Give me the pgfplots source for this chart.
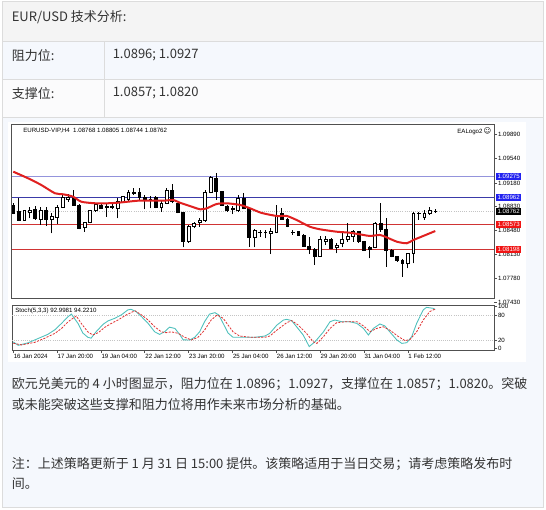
\documentclass[border=0pt]{standalone}
\usepackage{pgfplots}
\pgfplotsset{compat=1.18}
\usepackage{pgfplotstable}
\usepackage{fontspec}
\setmainfont{Liberation Sans}
\newfontfamily\cjk{Noto Sans CJK SC}
\newfontfamily\dejavu{DejaVu Sans}
\definecolor{bordergray}{HTML}{DCDCDC}
\definecolor{headbg}{HTML}{F4F4F4}
\definecolor{rowbg}{HTML}{F5F8FD}
\definecolor{rowwbg}{HTML}{FBFBFC}
\definecolor{txt}{HTML}{333333}
\definecolor{axisgray}{HTML}{505050}
\definecolor{lvlA}{HTML}{9494DC}
\definecolor{lvlB}{HTML}{3A3AA8}
\definecolor{lvlR}{HTML}{D03434}
\definecolor{curgray}{HTML}{C4C4C4}
\definecolor{maRed}{HTML}{E02020}
\definecolor{stTeal}{HTML}{4EC0BC}
\definecolor{stRed}{HTML}{E03030}
\definecolor{boxBlue}{HTML}{2222F0}
\definecolor{boxRed}{HTML}{F01414}

\pgfplotstableread{
i O H L C
0 1.08857 1.08882 1.08724 1.08735
1 1.08758 1.08955 1.08630 1.08636
2 1.08636 1.08783 1.08626 1.08773
3 1.08743 1.08823 1.08661 1.08783
4 1.08793 1.08842 1.08636 1.08661
5 1.08646 1.08823 1.08563 1.08773
6 1.08773 1.08823 1.08548 1.08646
7 1.08646 1.08743 1.08441 1.08685
8 1.08676 1.08857 1.08577 1.08823
9 1.08823 1.09004 1.08815 1.08970
10 1.08940 1.09018 1.08905 1.08970
11 1.08970 1.09077 1.08842 1.08857
12 1.08857 1.08865 1.08499 1.08514
13 1.08529 1.08611 1.08464 1.08596
14 1.08596 1.08783 1.08588 1.08773
15 1.08773 1.08882 1.08758 1.08871
16 1.08857 1.08871 1.08798 1.08808
17 1.08815 1.08882 1.08685 1.08830
18 1.08830 1.08905 1.08793 1.08815
19 1.08808 1.08955 1.08661 1.08905
20 1.08890 1.08989 1.08882 1.08979
21 1.08940 1.09077 1.08905 1.09037
22 1.09029 1.09102 1.09004 1.09037
23 1.09037 1.09102 1.08930 1.08970
24 1.08970 1.09004 1.08793 1.08930
25 1.08920 1.08989 1.08808 1.08940
26 1.08970 1.08989 1.08808 1.08823
27 1.08823 1.08930 1.08758 1.08882
28 1.08882 1.09102 1.08871 1.09077
29 1.09077 1.09165 1.08882 1.08905
30 1.08882 1.08890 1.08735 1.08743
31 1.08743 1.08758 1.08235 1.08317
32 1.08317 1.08563 1.08302 1.08548
33 1.08548 1.08611 1.08514 1.08588
34 1.08596 1.08661 1.08538 1.08636
35 1.08626 1.09077 1.08611 1.09037
36 1.09037 1.09283 1.09029 1.09264
37 1.09249 1.09331 1.08930 1.09052
38 1.09052 1.09067 1.08842 1.08857
39 1.08842 1.08857 1.08758 1.08773
40 1.08800 1.08842 1.08724 1.08808
41 1.08773 1.09004 1.08758 1.08955
42 1.08955 1.09037 1.08793 1.08808
43 1.08808 1.08823 1.08244 1.08382
44 1.08382 1.08499 1.08235 1.08489
45 1.08449 1.08489 1.08391 1.08455
46 1.08455 1.08489 1.08367 1.08449
47 1.08441 1.08514 1.08136 1.08464
48 1.08449 1.08857 1.08441 1.08710
49 1.08735 1.08808 1.08636 1.08646
50 1.08646 1.08661 1.08529 1.08538
51 1.08455 1.08489 1.08416 1.08449
52 1.08464 1.08479 1.08401 1.08416
53 1.08416 1.08430 1.08244 1.08254
54 1.08254 1.08382 1.08136 1.08205
55 1.08205 1.08220 1.07975 1.08097
56 1.08107 1.08401 1.08097 1.08352
57 1.08317 1.08401 1.08269 1.08352
58 1.08352 1.08367 1.08205 1.08220
59 1.08235 1.08294 1.08147 1.08269
60 1.08294 1.08441 1.08235 1.08352
61 1.08352 1.08588 1.08317 1.08401
62 1.08391 1.08489 1.08317 1.08464
63 1.08464 1.08479 1.08302 1.08317
64 1.08317 1.08332 1.08185 1.08195
65 1.08235 1.08254 1.08073 1.08205
66 1.08235 1.08611 1.08220 1.08588
67 1.08588 1.08882 1.08464 1.08499
68 1.08499 1.08661 1.07950 1.08195
69 1.08195 1.08205 1.08088 1.08097
70 1.08097 1.08107 1.08023 1.08038
71 1.08048 1.08058 1.07803 1.07999
72 1.07999 1.08155 1.07926 1.08147
73 1.08147 1.08758 1.07999 1.08735
74 1.08735 1.08758 1.08636 1.08740
75 1.08676 1.08783 1.08636 1.08735
76 1.08735 1.08832 1.08710 1.08783
77 1.08768 1.08805 1.08744 1.08762
}\candles

\pgfplotstableread{
i p
0 1.09346
2.7 1.09249
5.1 1.09151
7.6 1.09029
9.1 1.09014
10.9 1.08979
12.4 1.08905
14.9 1.08882
17.3 1.08882
19.1 1.08890
20.9 1.08905
22.8 1.08920
24.3 1.08920
27.4 1.08920
29.2 1.08930
30.4 1.08890
32.2 1.08842
34.1 1.08793
35.3 1.08808
37.1 1.08871
38.9 1.08882
41.4 1.08857
43.2 1.08808
45.3 1.08740
48.1 1.08695
49.9 1.08695
51.7 1.08636
54.1 1.08538
56 1.08499
59 1.08464
61.4 1.08449
63.9 1.08416
65.1 1.08401
66.9 1.08416
68.1 1.08382
70 1.08317
71.8 1.08294
73 1.08342
74.8 1.08401
77 1.08474
}\ma

\pgfplotstableread{
i v
0 16
0.9 8
2.7 14
4.5 24
6.3 34
7.6 45
8.8 60
10 76
10.6 82
11.8 60
12.7 37
13.6 27
14.2 25
15.1 40
16.4 58
17.3 66
18.5 72
19.7 80
20.9 92
21.5 93.4
22.4 88
23.4 76
24.6 60
25.8 40
26.7 34
27.6 40
28.5 51
29.5 48
30.4 33
31 21
32.2 20.6
33.1 27
34 40
34.9 64
35.8 82
36.8 85.4
37.5 80
38.3 60
39.2 37
40.1 27
41.6 27
44.1 27
45.9 30
46.8 36.4
48.1 56
49.3 68
49.9 69.6
50.8 66.5
51.7 52
52.9 32.5
54 5
55.1 17
56.6 40
57.8 64
58.7 68
59.9 64
61.4 64
62.7 60
63.9 48
64.8 32.5
65.7 48
66.9 58.6
67.8 54
68.7 40
70 20.6
70.9 12.6
71.8 14.2
72.7 28.5
73.6 60
74.8 92
75.4 98
76.6 95.8
77 93
}\stmain

\pgfplotstableread{
i v
0 13
1.5 9
3.9 15
5.7 24.6
7.6 36.4
8.8 48
10 64
11.5 77.5
12.4 60
13.6 40
14.5 32.5
15.5 38
16.7 50.7
17.9 60
19.1 68
20.6 80
22.2 90
23.4 80
24.6 68
25.8 52
27 40
27.9 38
28.8 40
30.1 36.4
31.3 27
32.5 20.6
33.7 27
34.9 44
36.1 68
37.2 80
38.3 72
39.2 56
40.1 40
41.3 30
43.4 27
45.9 27
46.8 30
48.1 44
49.9 61.7
50.8 66.5
52 56
53.5 36.4
54.7 16.7
55.4 12.6
56.6 28.5
57.8 48
59 61.7
60.8 64
62.7 64
63.9 54
65.1 40.4
66.3 48
67.5 52
68.7 44
70.3 28.5
71.5 19
72.4 22
73.6 40
74.8 68
76 88
77 94.2
}\stsig

\newcommand{\chartfont}{\fontsize{4.6pt}{5pt}\selectfont}
\newcommand{\pagefont}{\cjk\fontsize{9.75pt}{12pt}\selectfont}

\begin{document}
\begin{tikzpicture}
\begin{scope}[x=0.75pt,y=-0.75pt]
\useasboundingbox (0,0) rectangle (546,510);
\fill[white] (0,0) rectangle (546,510);
% page table
\fill[headbg] (2.5,1.5) rectangle (543.5,41.7);
\fill[rowbg] (2.5,41.7) rectangle (543.5,80);
\fill[rowwbg] (2.5,80) rectangle (543.5,117.3);
\fill[rowbg] (2.5,117.3) rectangle (543.5,507.5);
\draw[bordergray, line width=0.75pt] (2.5,41.7) -- (543.5,41.7) (2.5,80) -- (543.5,80) (2.5,117.3) -- (543.5,117.3) (104,41.7) -- (104,117.3);
\draw[bordergray, line width=0.75pt] (2.5,1.5) rectangle (543.5,507.5);
\node[anchor=west, inner sep=0, text=txt, font=\pagefont] at (11.5,17) {EUR/USD 技术分析:};
\node[anchor=west, inner sep=0, text=txt, font=\pagefont] at (11.5,55.5) {阻力位:};
\node[anchor=west, inner sep=0, text=txt, font=\pagefont] at (112.5,55.5) {1.0896; 1.0927};
\node[anchor=west, inner sep=0, text=txt, font=\pagefont] at (11.5,93.5) {支撑位:};
\node[anchor=west, inner sep=0, text=txt, font=\pagefont] at (112.5,93.5) {1.0857; 1.0820};
% paragraph
\node[anchor=west, inner sep=0, text=txt, font=\pagefont] at (11.5,384) {欧元兑美元的 4 小时图显示，阻力位在 1.0896；1.0927，支撑位在 1.0857；1.0820。突破};
\node[anchor=west, inner sep=0, text=txt, font=\pagefont] at (11.5,405) {或未能突破这些支撑和阻力位将用作未来市场分析的基础。};
\node[anchor=west, inner sep=0, text=txt, font=\pagefont] at (11.5,464) {注：上述策略更新于 1 月 31 日 15:00 提供。该策略适用于当日交易；请考虑策略发布时};
\node[anchor=west, inner sep=0, text=txt, font=\pagefont] at (11.5,483.5) {间。};
% chart image background
\fill[white] (8,122) rectangle (526,362);
\end{scope}

% ---------------- price panel ----------------
\begin{axis}[
  at={(9pt,-223.5pt)}, anchor=south west,
  scale only axis, width=361.5pt, height=129.75pt,
  xmin=-0.237, xmax=87.72, ymin=1.074894, ymax=1.100325,
  axis line style={draw=axisgray, line width=0.75pt},
  xtick=\empty,
  ytick={1.0778,1.0813,1.0848,1.0883,1.0918,1.0954,1.0989},
  yticklabels={1.07780,1.08130,1.08480,1.08830,1.09180,1.09540,1.09890},
  ytick pos=right, yticklabel pos=right,
  tick align=outside, major tick length=2.25pt,
  tick style={draw=axisgray, line width=0.5pt},
  yticklabel style={font=\chartfont, inner sep=0.6pt},
]
\addplot[curgray, line width=0.6pt, densely dotted] coordinates {(-0.237,1.08762) (87.72,1.08762)};
\addplot[lvlA, line width=1pt] coordinates {(-0.237,1.09275) (87.72,1.09275)};
\addplot[lvlB, line width=0.75pt] coordinates {(-0.237,1.08962) (87.72,1.08962)};
\addplot[lvlR, line width=0.75pt] coordinates {(-0.237,1.08573) (87.72,1.08573)};
\addplot[lvlR, line width=0.75pt] coordinates {(-0.237,1.08198) (87.72,1.08198)};
% candles, one wick and one body per row of the table
\pgfplotsinvokeforeach{0,...,77}{%
  \pgfplotstablegetelem{#1}{O}\of{\candles}\edef\cO{\pgfplotsretval}%
  \pgfplotstablegetelem{#1}{H}\of{\candles}\edef\cH{\pgfplotsretval}%
  \pgfplotstablegetelem{#1}{L}\of{\candles}\edef\cL{\pgfplotsretval}%
  \pgfplotstablegetelem{#1}{C}\of{\candles}\edef\cC{\pgfplotsretval}%
  \pgfmathsetmacro\xa{#1-0.26}%
  \pgfmathsetmacro\xb{#1+0.26}%
  \pgfmathtruncatemacro\isbear{\cC<\cO ? 1 : 0}%
  \ifnum\isbear=1 \def\fc{black}\else\def\fc{white}\fi
  \edef\doplot{%
    \noexpand\addplot[draw=black, line width=0.55pt, forget plot] coordinates {(#1,\cL) (#1,\cH)};%
    \noexpand\addplot[draw=black, fill=\fc, line width=0.5pt, forget plot] coordinates {(\xa,\cO) (\xb,\cO) (\xb,\cC) (\xa,\cC)} -- cycle;%
  }%
  \doplot
}
% moving average
\addplot[maRed, line width=1.5pt, smooth, tension=0.4] table[x=i, y=p] {\ma};
\coordinate (LA) at (axis cs:87.72,1.09275);
\coordinate (LB) at (axis cs:87.72,1.08962);
\coordinate (LC) at (axis cs:87.72,1.08762);
\coordinate (LD) at (axis cs:87.72,1.08573);
\coordinate (LE) at (axis cs:87.72,1.08198);
\coordinate (LF) at (axis cs:87.72,1.0743);
\end{axis}
\node[anchor=west, font=\chartfont, inner sep=0.6pt] at ([xshift=2.25pt]LF) {1.07430};
\draw[axisgray, line width=0.5pt] (LF) -- ++(2.25pt,0);
\foreach \c/\v/\col in {LA/1.09275/boxBlue, LB/1.08962/boxBlue, LC/1.08762/black, LD/1.08573/boxRed, LE/1.08198/boxRed}{
  \node[anchor=west, fill=\col, text=white, font=\chartfont, inner xsep=1.1pt, inner ysep=0pt, minimum height=5pt] at ([xshift=1.4pt]\c) {\v};
}

% ---------------- stochastic panel ----------------
\begin{axis}[
  at={(9pt,-262.5pt)}, anchor=south west,
  scale only axis, width=361.5pt, height=33.75pt,
  xmin=-0.237, xmax=87.72, ymin=-3.1, ymax=103.6,
  axis line style={draw=axisgray, line width=0.75pt},
  xtick={0,8,16,24,32,40,48,56,64,72},
  xticklabels={16 Jan 2024,17 Jan 20:00,19 Jan 04:00,22 Jan 12:00,23 Jan 20:00,25 Jan 04:00,26 Jan 12:00,29 Jan 20:00,31 Jan 04:00,1 Feb 12:00},
  xtick pos=bottom, xticklabel pos=bottom,
  xticklabel style={anchor=north west, font=\chartfont, inner sep=0.6pt, xshift=-0.4pt},
  ytick={0,100}, yticklabels={0,100},
  extra y ticks={20,80}, extra y tick labels={20,80},
  extra y tick style={ymajorgrids=true},
  major grid style={curgray, line width=0.6pt, densely dotted},
  ytick pos=right, yticklabel pos=right,
  tick align=outside, major tick length=2.25pt,
  tick style={draw=axisgray, line width=0.5pt},
  yticklabel style={font=\chartfont, inner sep=0.6pt},
]
\addplot[stTeal, line width=0.65pt] table[x=i, y=v] {\stmain};
\addplot[stRed, line width=0.6pt, dash pattern=on 1.6pt off 1pt] table[x=i, y=v] {\stsig};
\end{axis}

\begin{scope}[x=0.75pt,y=-0.75pt]
\node[anchor=west, font=\chartfont, inner sep=0] at (23,130.5) {EURUSD-VIP,H4\ \ 1.08768 1.08805 1.08744 1.08762};
\node[anchor=east, font=\chartfont, inner sep=0] at (491.5,131.5) {EALogo2\,{\dejavu\fontsize{5.5pt}{6pt}\selectfont ☺}};
\node[anchor=west, font=\chartfont, inner sep=0] at (15,311) {Stoch(5,3,3) 92.9981 94.2210};
\end{scope}
\end{tikzpicture}
\end{document}
